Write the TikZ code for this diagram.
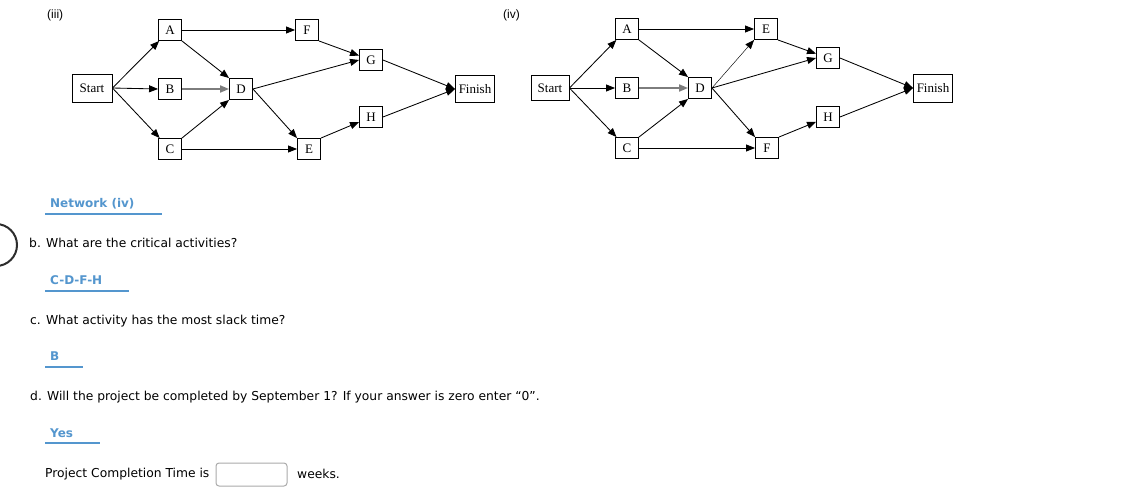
\documentclass[tikz,border=0pt]{standalone}
\usepackage{fontspec}
\setmainfont{DejaVu Sans}
\newfontfamily\diagfont{Liberation Serif}
\newfontfamily\labfont{Liberation Sans}
\usetikzlibrary{arrows.meta}
\definecolor{ansblue}{RGB}{84,150,206}
\definecolor{bdgray}{RGB}{125,125,125}
\definecolor{boxgray}{RGB}{170,170,170}
\definecolor{circgray}{RGB}{45,45,45}
\tikzset{
  act/.style={draw=black, line width=0.9pt, fill=white, minimum width=23pt, minimum height=21pt, inner sep=0pt, font=\diagfont\fontsize{13}{13}\selectfont},
  endbox/.style={act, minimum width=39pt, minimum height=27pt},
  arr/.style={-{Triangle[length=9pt,width=7pt]}, line width=0.85pt, black},
  grayarr/.style={-{Triangle[length=9pt,width=7pt]}, line width=1.8pt, bdgray},
  thinarr/.style={-{Triangle[length=9pt,width=7pt]}, line width=0.45pt, black},
  qtext/.style={anchor=west, inner sep=0pt, font=\fontsize{12.3}{14}\selectfont},
  anstext/.style={anchor=west, inner sep=0pt, text=ansblue, font=\bfseries\fontsize{12}{14}\selectfont},
  uline/.style={ansblue, line width=2pt},
  tag/.style={anchor=west, inner sep=0pt, font=\labfont\fontsize{12}{13}\selectfont}
}
\begin{document}
\begin{tikzpicture}[x=1pt,y=-1pt]
\useasboundingbox (0,0) rectangle (1145,493);
\clip (0,0) rectangle (1145,493);
\fill[white] (0,0) rectangle (1145,493);

% ---------- network (iii) ----------
\node[tag] (t3) at (47,15) {(iii)};
\node[endbox, minimum width=40pt, minimum height=28pt] (s3) at (92,88) {Start};
\node[act] (a3) at (170,30) {A};
\node[act] (b3) at (170,89) {B};
\node[act] (c3) at (170,149) {C};
\node[act] (d3) at (241,89) {D};
\node[act] (f3) at (307,30) {F};
\node[act] (e3) at (309,149) {E};
\node[act] (g3) at (371,60) {G};
\node[act] (h3) at (371,117) {H};
\node[endbox] (fin3) at (475,89) {Finish};

\draw[arr] (s3.east) -- (a3);
\draw[arr] (s3.east) -- (b3.west);
\draw[arr] (s3.east) -- (c3);
\draw[arr] (a3.east) -- (f3.west);
\draw[arr] (a3.south east) -- (d3.north west);
\draw[grayarr] (b3.east) -- (d3.west);
\draw[arr] (c3.north east) -- (d3.south west);
\draw[arr] (c3.east) -- (e3.west);
\draw[arr] (d3.east) -- (g3.west);
\draw[arr] (d3.east) -- (e3.north west);
\draw[arr] (f3.south east) -- (g3);
\draw[arr] (e3.north east) -- (h3);
\draw[arr] (g3.east) -- (fin3.west);
\draw[arr] (h3.east) -- (fin3.west);

% ---------- network (iv) ----------
\node[tag] (t4) at (503,15) {(iv)};
\node[endbox, minimum width=38pt, minimum height=25pt] (s4) at (550,88) {Start};
\node[act] (a4) at (627,29) {A};
\node[act] (b4) at (627,88) {B};
\node[act] (c4) at (627,148) {C};
\node[act] (d4) at (700,88) {D};
\node[act] (e4) at (766,29) {E};
\node[act] (f4) at (767,148) {F};
\node[act] (g4) at (828,58) {G};
\node[act] (h4) at (828,117) {H};
\node[endbox, minimum height=28pt] (fin4) at (933,88) {Finish};

\draw[arr] (s4.east) -- (a4);
\draw[arr] (s4.east) -- (b4.west);
\draw[arr] (s4.east) -- (c4);
\draw[arr] (a4.east) -- (e4.west);
\draw[arr] (a4.south east) -- (d4.north west);
\draw[grayarr] (b4.east) -- (d4.west);
\draw[arr] (c4.north east) -- (d4.south west);
\draw[arr] (c4.east) -- (f4.west);
\draw[thinarr] (d4.east) -- (e4.south west);
\draw[arr] (d4.east) -- (g4.west);
\draw[arr] (d4.east) -- (f4.north west);
\draw[arr] (e4.south east) -- (g4);
\draw[arr] (f4.north east) -- (h4);
\draw[arr] (g4.east) -- (fin4.west);
\draw[arr] (h4.east) -- (fin4.west);

% ---------- questions ----------
\draw[circgray, line width=2pt] (-4,245) circle (21);

\node[anstext] (ans1) at (50,204) {Network (iv)};
\coordinate (u1a) at (45,214); \coordinate (u1b) at (162,214);
\draw[uline] (u1a) -- (u1b);

\node[qtext] (qb) at (29,243) {b. What are the critical activities?};

\node[anstext] (ans2) at (50,280) {C-D-F-H};
\coordinate (u2a) at (45,291); \coordinate (u2b) at (129,291);
\draw[uline] (u2a) -- (u2b);

\node[qtext] (qc) at (30,321) {c. What activity has the most slack time?};

\node[anstext] (ans3) at (50,356) {B};
\coordinate (u3a) at (45,367); \coordinate (u3b) at (83,367);
\draw[uline] (u3a) -- (u3b);

\node[qtext] (qd) at (30,397) {d. Will the project be completed by September 1? If your answer is zero enter “0”.};

\node[anstext] (ans4) at (50,433) {Yes};
\coordinate (u4a) at (45,443); \coordinate (u4b) at (100,443);
\draw[uline] (u4a) -- (u4b);

\node[qtext] (pct) at (45,474) {Project Completion Time is};
\node[draw=boxgray, line width=1pt, rounded corners=3pt, minimum width=71pt, minimum height=23pt, inner sep=0pt] (inbox) at (251.5,474.5) {};
\node[qtext] (wk) at (297,474) {weeks.};
\end{tikzpicture}
\end{document}
